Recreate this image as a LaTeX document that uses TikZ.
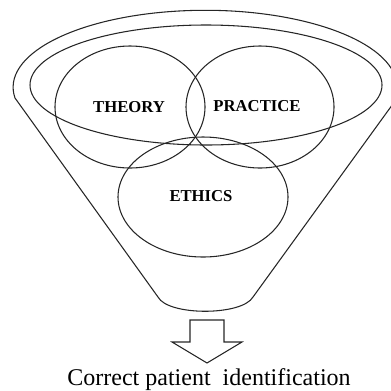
\documentclass[tikz,border=0pt]{standalone}
\usepackage{fontspec}
\setmainfont{Liberation Serif}
\tikzset{
  ring/.style={draw=black!85, line width=0.8pt},
  tag/.style={inner sep=0.75pt, font=\fontsize{12.5}{14}\selectfont\bfseries}
}
\begin{document}
\begin{tikzpicture}[x=0.75pt,y=0.75pt,yscale=-1,xscale=1]
\useasboundingbox (0,0) rectangle (391,390);

%Shape: Funnel
\draw [ring] (15,98) arc (172:378:192 and 77) -- (253,297) .. controls (242,316) and (168,316) .. (158,297) -- cycle ;
%Shape: Ellipse (rim)
\draw [ring] (206,85) ellipse (176 and 60) ;
%Shape: Ellipse
\draw [ring] (130,107) ellipse (75 and 61) ;
%Shape: Ellipse
\draw [ring] (260,107) ellipse (74 and 61) ;
%Shape: Ellipse
\draw [ring] (203,197) ellipse (85 and 60) ;
%Shape: Down Arrow
\draw [ring] (190,320) -- (224,320) -- (224,342) -- (242,342) -- (207,363) -- (172,342) -- (190,342) -- cycle ;

% Text Node
\node [tag] (theory) at (129,107) {THEORY};
% Text Node
\node [tag] (practice) at (257,106) {PRACTICE};
% Text Node
\node [tag] (ethics) at (201,196) {ETHICS};
% Text Node
\node [anchor=base, inner sep=0.75pt, font=\fontsize{18}{21}\selectfont] (result) at (209,385) {Correct patient \ identification};

\end{tikzpicture}
\end{document}
